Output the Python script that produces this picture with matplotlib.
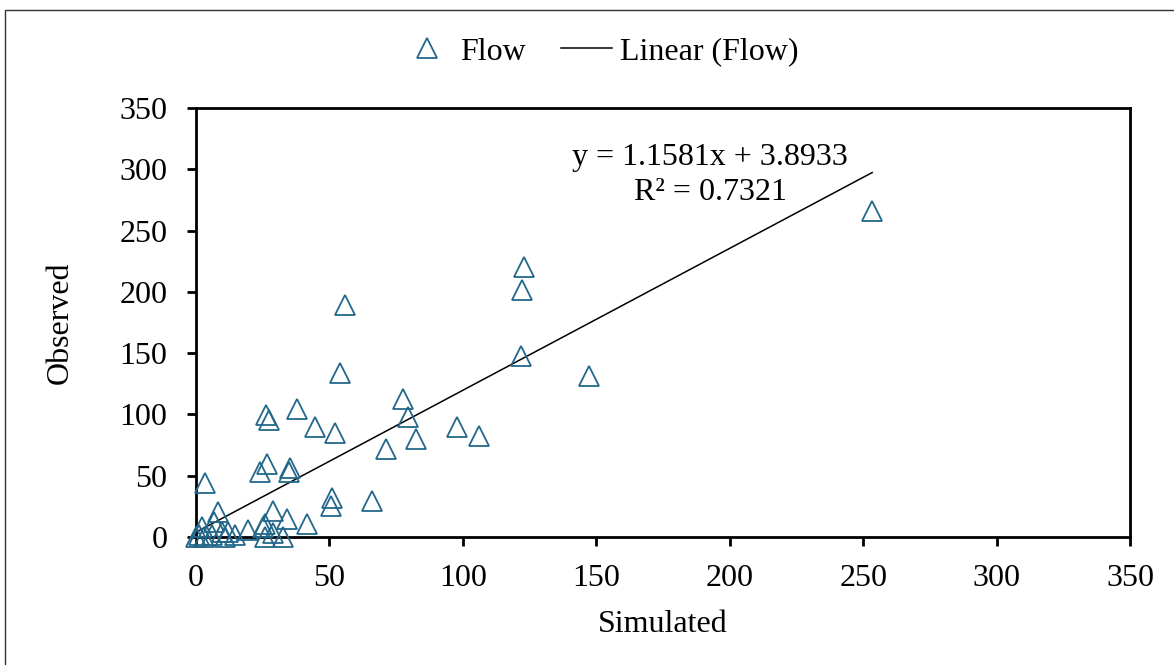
import matplotlib
matplotlib.use('Agg')
import numpy as np
from matplotlib import pyplot as plt
from matplotlib.patches import Rectangle

# simulated vs observed flow
simulated = [253.4, 122.8, 122.0, 121.8, 147.2, 55.9, 54.0, 77.4, 79.3, 37.7,
             26.2, 27.4, 44.6, 52.1, 97.7, 106.0, 82.6, 71.1, 26.5, 24.0,
             35.2, 34.7, 3.4, 65.9, 50.8, 50.5, 8.3, 29.0, 34.2, 41.5,
             25.9, 25.0, 19.6, 6.9, 2.1, 12.1, 14.6, 5.9, 9.6, 25.9,
             32.7, 0.0, 1.0, 3.0, 11.0, 29.0]
observed = [265.9, 220.3, 201.5, 147.9, 131.6, 189.3, 133.6, 112.3, 98.2, 104.7,
            99.5, 95.2, 89.5, 85.1, 89.5, 82.6, 80.0, 71.8, 59.6, 52.8,
            56.0, 53.3, 44.0, 29.6, 31.6, 25.5, 20.6, 21.2, 14.4, 10.6,
            10.6, 8.0, 5.7, 12.5, 8.4, 4.3, 1.6, 1.6, 4.3, 0.3,
            0.3, 0.0, 2.0, 0.0, 0.0, 3.0]

slope = 1.1581
intercept = 3.8933
r2 = 0.7321

ticks = [0, 50, 100, 150, 200, 250, 300, 350]

plt.rcParams['font.family'] = 'Liberation Serif'
plt.rcParams['font.size'] = 23

W, H = 1174, 665
fig = plt.figure(figsize=(W / 100, H / 100), dpi=100)
ax = fig.add_axes([196 / W, 1 - 537 / H, (1130 - 196) / W, (537 - 108) / H])

ax.plot(simulated, observed, linestyle='none', marker='^', markersize=14,
        markerfacecolor='none', markeredgecolor='#23688A', markeredgewidth=1.3,
        label='Flow', clip_on=False, zorder=3)

xs = np.array([min(simulated), max(simulated)])
ax.plot(xs, slope * xs + intercept, color='black', linewidth=1.1,
        label='Linear (Flow)', zorder=2)

ax.set_xlim(0, 350)
ax.set_ylim(0, 350)
ax.set_xticks(ticks)
ax.set_yticks(ticks)
for s in ax.spines.values():
    s.set_linewidth(2)
ax.tick_params(direction='out', length=6.5, width=2)
ax.tick_params(axis='y', pad=14)
ax.tick_params(axis='x', pad=13)

ax.set_xlabel('Simulated', labelpad=12)
ax.set_ylabel('Observed', labelpad=32)

fig.text(710 / W, 1 - 175 / H,
         'y = %.4fx + %.4f\nR² = %.4f' % (slope, intercept, r2),
         ha='center', va='center', linespacing=1.3)

fig.legend(loc='center', bbox_to_anchor=(600 / W, 1 - 52 / H), ncol=2,
           frameon=False, handlelength=1.6, columnspacing=1.1,
           handletextpad=0.25)

# outer chart frame, cut off at the right and bottom
fig.patches.append(Rectangle((5 / W, -0.1), 1.1, 1 - 10 / H + 0.1,
                             transform=fig.transFigure, fill=False,
                             edgecolor='#333333', linewidth=1.0))

fig.savefig('out.png', dpi=100)
